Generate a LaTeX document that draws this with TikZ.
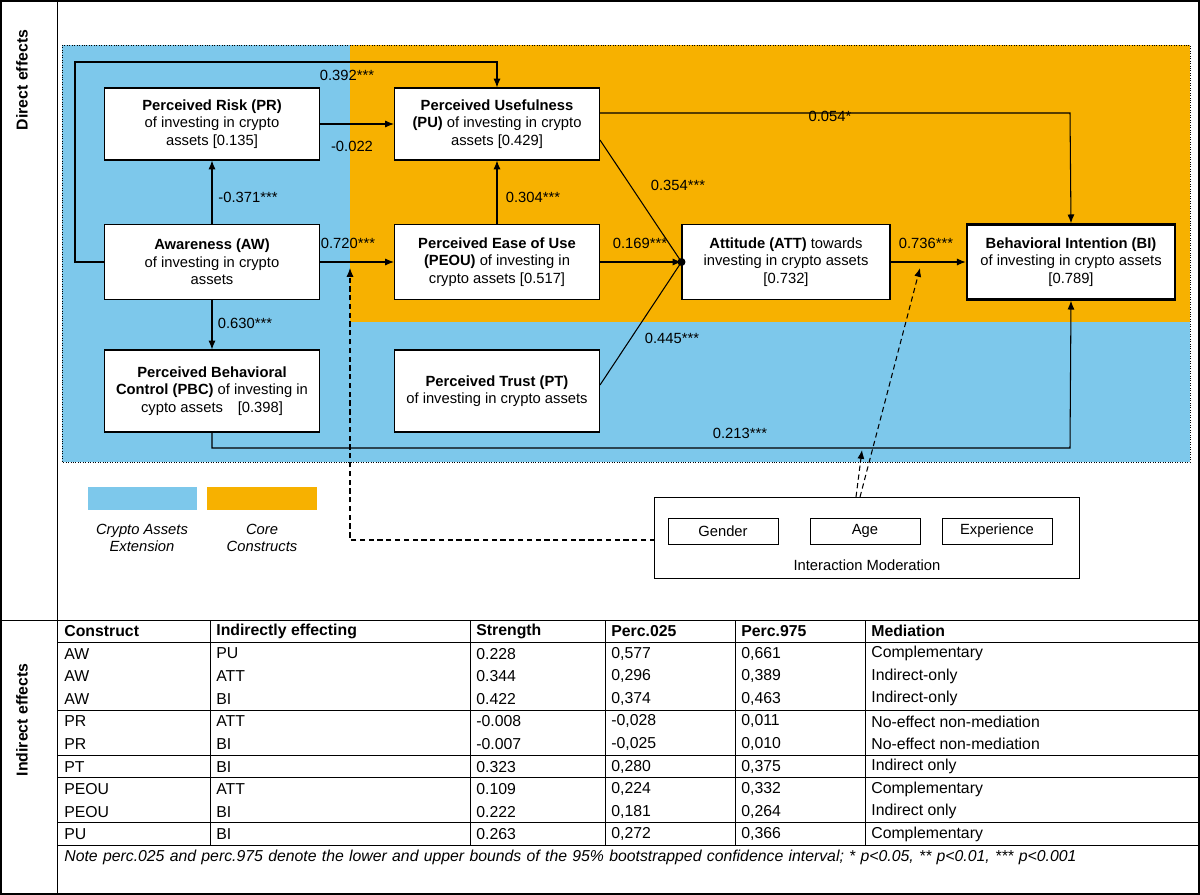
\documentclass[tikz,border=0pt]{standalone}
\usepackage{fontspec}
\setmainfont{Liberation Sans}
\usetikzlibrary{arrows.meta,calc}
\definecolor{cblue}{RGB}{125,200,235}
\definecolor{corange}{RGB}{247,177,0}
\begin{document}
\begin{tikzpicture}[x=0.02cm,y=-0.02cm,font=\fontsize{8.4}{10}\selectfont,
 box/.style={draw,fill=white,align=center,inner sep=1pt,line width=0.6pt},
 arr/.style={-{Latex[length=5pt,width=4pt]},line width=0.6pt},
 lab/.style={inner sep=1pt},
 dsh/.style={arr,densely dashed},
 cell/.style={anchor=west,inner sep=0pt},
 hd/.style={cell,font=\fontsize{9}{11}\selectfont\bfseries}]
\useasboundingbox (0,0) rectangle (1200,895);
\draw[line width=0.8pt] (1,1) rectangle (1199,894);
\draw (57,1) -- (57,894);
\draw (1,620) -- (1199,620);
\node[rotate=90,font=\fontsize{9}{11}\selectfont\bfseries] (de) at (22,80) {Direct effects};
\node[rotate=90,font=\fontsize{9}{11}\selectfont\bfseries] (ie) at (22,720) {Indirect effects};
% regions
\fill[cblue] (62,45) rectangle (1190,462);
\fill[corange] (350,45) rectangle (1190,322);
\draw[densely dotted] (62,45) rectangle (1190,462);
% boxes
\node[box,minimum width=215*0.02cm,minimum height=72*0.02cm] (PR) at (212,124) {\textbf{Perceived Risk (PR)}\\of investing in crypto\\assets [0.135]};
\node[box,minimum width=205*0.02cm,minimum height=72*0.02cm] (PU) at (497,124) {\textbf{Perceived Usefulness}\\\textbf{(PU)} of investing in crypto\\assets [0.429]};
\node[box,minimum width=215*0.02cm,minimum height=75*0.02cm] (AW) at (212,262) {\textbf{Awareness (AW)}\\of investing in crypto\\assets};
\node[box,minimum width=205*0.02cm,minimum height=75*0.02cm] (PEOU) at (497,262) {\textbf{Perceived Ease of Use}\\\textbf{(PEOU)} of investing in\\crypto assets [0.517]};
\node[box,minimum width=208*0.02cm,minimum height=75*0.02cm] (ATT) at (786,262) {\textbf{Attitude (ATT)} towards\\investing in crypto assets\\{[0.732]}};
\node[box,line width=1.4pt,minimum width=208*0.02cm,minimum height=75*0.02cm] (BI) at (1071,262) {\textbf{Behavioral Intention (BI)}\\of investing in crypto assets\\{[0.789]}};
\node[box,minimum width=215*0.02cm,minimum height=82*0.02cm] (PBC) at (212,391) {\textbf{Perceived Behavioral}\\\textbf{Control (PBC)} of investing in\\cypto assets\quad[0.398]};
\node[box,minimum width=205*0.02cm,minimum height=82*0.02cm] (PT) at (497,391) {\textbf{Perceived Trust (PT)}\\of investing in crypto assets};
% arrows
\draw[arr] (AW.west) -- (75,262) -- (75,62) -- (497,62) -- (PU.north);
\node[lab] (l1) at (347,75) {0.392***};
\draw[arr] (PR.east) -- (PU.west);
\node[lab] (l2) at (352,146) {-0.022};
\draw[arr] (AW.north) -- (PR.south);
\node[lab] (l3) at (248,197) {-0.371***};
\draw[arr] (AW.east) -- (PEOU.west);
\node[lab] (l4) at (348,243) {0.720***};
\draw[arr] (PEOU.north) -- (PU.south);
\node[lab] (l5) at (533,197) {0.304***};
\draw[arr] (AW.south) -- (PBC.north);
\node[lab] (l6) at (245,323) {0.630***};
\draw[arr] (PEOU.east) -- (ATT.west);
\node[lab] (l7) at (640,243) {0.169***};
\draw[line width=0.6pt] (600,140) -- (ATT.west);
\node[lab] (l8) at (678,185) {0.354***};
\draw[line width=0.6pt] (600,385) -- (ATT.west);
\node[lab] (l9) at (672,338) {0.445***};
\fill (ATT.west) circle (4);
\draw[arr] (600,113) -- (1070,113) -- (BI.north);
\node[lab] (l10) at (830,116) {0.054*};
\draw[arr] (ATT.east) -- (BI.west);
\node[lab] (l11) at (926,243) {0.736***};
\draw[arr] (PBC.south) -- (212,448) -- (1070,448) -- (BI.south);
\node[lab] (l12) at (740,433) {0.213***};
% legend
\fill[cblue] (88,487) rectangle (197,510);
\fill[corange] (207,487) rectangle (317,510);
\node[align=center,font=\fontsize{8.4}{10}\selectfont\itshape] (lg1) at (142,538) {Crypto Assets\\Extension};
\node[align=center,font=\fontsize{8.4}{10}\selectfont\itshape] (lg2) at (262,538) {Core\\Constructs};
% moderation
\node[draw,fill=white,minimum width=425*0.02cm,minimum height=81*0.02cm] (MOD) at (867,537.5) {};
\node[draw,minimum width=110*0.02cm,minimum height=26*0.02cm] (G) at (723,531) {Gender};
\node[draw,minimum width=110*0.02cm,minimum height=26*0.02cm] (A) at (865,531) {Age};
\node[draw,minimum width=110*0.02cm,minimum height=26*0.02cm] (E) at (997,531) {Experience};
\node (IM) at (867,565) {Interaction Moderation};
\draw[dsh] (655,540) -- (350,540) -- (350,268);
\draw[dsh] (856,497) -- (862,450);
\draw[dsh] (860,497) -- (920,268);
% table
\foreach \y in {642,710,755,777,822,845} \draw (57,\y) -- (1199,\y);
\foreach \x in {210,470,605,735,865} \draw (\x,620) -- (\x,845);
\node[hd] (h1) at (64,631) {Construct};
\node[hd] (h2) at (216,631) {Indirectly effecting};
\node[hd] (h3) at (476,631) {Strength};
\node[hd] (h4) at (611,631) {Perc.025};
\node[hd] (h5) at (741,631) {Perc.975};
\node[hd] (h6) at (871,631) {Mediation};
\foreach \a/\b/\c/\d/\e/\f [count=\i] in {AW/PU/0.228/{0,577}/{0,661}/Complementary,AW/ATT/0.344/{0,296}/{0,389}/Indirect-only,AW/BI/0.422/{0,374}/{0,463}/Indirect-only,PR/ATT/-0.008/{-0,028}/{0,011}/No-effect non-mediation,PR/BI/-0.007/{-0,025}/{0,010}/No-effect non-mediation,PT/BI/0.323/{0,280}/{0,375}/Indirect only,PEOU/ATT/0.109/{0,224}/{0,332}/Complementary,PEOU/BI/0.222/{0,181}/{0,264}/Indirect only,PU/BI/0.263/{0,272}/{0,366}/Complementary}{
 \pgfmathsetmacro\yy{631+22.6*\i}
 \node[cell,font=\fontsize{9}{11}\selectfont] (ra\i) at (64,\yy) {\a};
 \node[cell,font=\fontsize{9}{11}\selectfont] (rb\i) at (216,\yy) {\b};
 \node[cell,font=\fontsize{9}{11}\selectfont] (rc\i) at (476,\yy) {\c};
 \node[cell,font=\fontsize{9}{11}\selectfont] (rd\i) at (611,\yy) {\d};
 \node[cell,font=\fontsize{9}{11}\selectfont] (re\i) at (741,\yy) {\e};
 \node[cell,font=\fontsize{9}{11}\selectfont] (rf\i) at (871,\yy) {\f};
}
\node[anchor=north west,inner sep=0pt,text width=1125*0.02cm,font=\fontsize{9}{11.5}\selectfont\itshape] (note) at (64,850) {Note perc.025 and perc.975 denote the lower and upper bounds of the 95\% bootstrapped confidence interval; * p<0.05, ** p<0.01, *** p<0.001};
\end{tikzpicture}
\end{document}
